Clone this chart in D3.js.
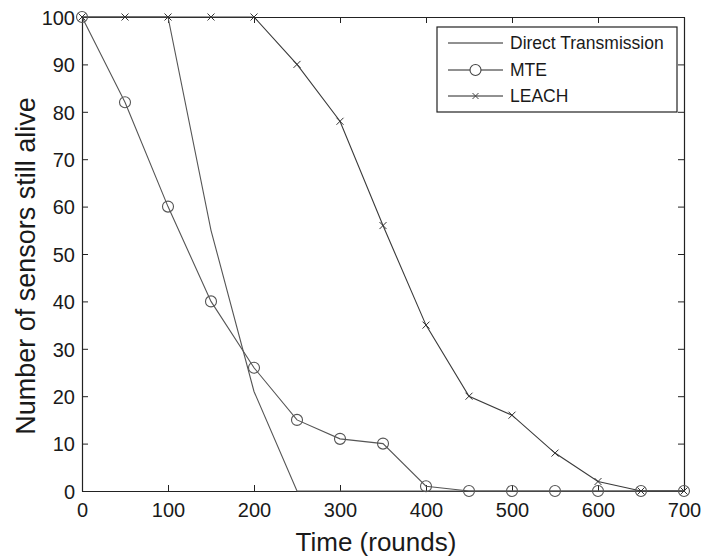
<!DOCTYPE html>
<html>
<head>
<meta charset="utf-8">
<script src="https://cdn.jsdelivr.net/npm/d3@7"></script>
<style>
  body { margin: 0; background: #fff; }
  text { font-family: "Liberation Sans", Arial, sans-serif; fill: #1a1a1a; }
</style>
</head>
<body>
<script>
// rounds (x values shared by all series)
var rounds = [0, 50, 100, 150, 200, 250, 300, 350, 400, 450, 500, 550, 600, 650, 700];

// sensors still alive per protocol
var directTx = [100, 100, 100, 55, 21, 0, 0, 0, 0, 0, 0, 0, 0, 0, 0];
var mte      = [100, 82, 60, 40, 26, 15, 11, 10, 1, 0, 0, 0, 0, 0, 0];
var leach    = [100, 100, 100, 100, 100, 90, 78, 56, 35, 20, 16, 8, 2, 0, 0];

var xTicks = [0, 100, 200, 300, 400, 500, 600, 700];
var yTicks = [0, 10, 20, 30, 40, 50, 60, 70, 80, 90, 100];

var W = 705, H = 558;
// note: "top" is a reserved window prop, so use plot* names
var plotL = 82, plotR = 684, plotT = 17, plotB = 491;

var svg = d3.select("body").append("svg").attr("width", W).attr("height", H);

var x = d3.scaleLinear().domain([0, 700]).range([plotL, plotR]);
var y = d3.scaleLinear().domain([0, 100]).range([plotB, plotT]);

// frame with inward ticks on all sides (matlab style)
var tl = 6;
svg.append("g").attr("transform", "translate(0," + plotB + ")")
  .call(d3.axisBottom(x).tickValues(xTicks).tickSizeInner(-tl).tickSizeOuter(0).tickPadding(9))
  .call(function (g) { g.selectAll("text").attr("font-size", 20).attr("dy", "0.85em"); });
svg.append("g").attr("transform", "translate(0," + plotT + ")")
  .call(d3.axisTop(x).tickValues(xTicks).tickSizeInner(-tl).tickSizeOuter(0).tickFormat(""));
svg.append("g").attr("transform", "translate(" + plotL + ",0)")
  .call(d3.axisLeft(y).tickValues(yTicks).tickSizeInner(-tl).tickSizeOuter(0).tickPadding(7))
  .call(function (g) { g.selectAll("text").attr("font-size", 20).attr("dy", "0.36em"); });
svg.append("g").attr("transform", "translate(" + plotR + ",0)")
  .call(d3.axisRight(y).tickValues(yTicks).tickSizeInner(-tl).tickSizeOuter(0).tickFormat(""));

svg.selectAll(".domain").attr("stroke", "#222").attr("stroke-width", 1.2);
svg.selectAll(".tick line").attr("stroke", "#222");
svg.selectAll(".tick text").attr("fill", "#1a1a1a").attr("font-family", "Liberation Sans, Arial, sans-serif");

// axis labels
svg.append("text")
  .attr("x", 376).attr("y", 551)
  .attr("text-anchor", "middle")
  .attr("font-size", 26)
  .text("Time (rounds)");
svg.append("text")
  .attr("transform", "translate(35,266) rotate(-90)")
  .attr("text-anchor", "middle")
  .attr("font-size", 27)
  .text("Number of sensors still alive");

var line = d3.line()
  .x(function (d) { return x(d[0]); })
  .y(function (d) { return y(d[1]); });

function pairs(vals) {
  return rounds.map(function (r, i) { return [r, vals[i]]; });
}

var lineColor = "#555";

svg.append("path").datum(pairs(directTx))
  .attr("d", line).attr("fill", "none").attr("stroke", lineColor).attr("stroke-width", 1.1);
svg.append("path").datum(pairs(mte))
  .attr("d", line).attr("fill", "none").attr("stroke", lineColor).attr("stroke-width", 1.1);
svg.append("path").datum(pairs(leach))
  .attr("d", line).attr("fill", "none").attr("stroke", "#3a3a3a").attr("stroke-width", 1.1);

// MTE circles
svg.selectAll("circle.mte").data(pairs(mte)).enter().append("circle")
  .attr("class", "mte")
  .attr("cx", function (d) { return x(d[0]); })
  .attr("cy", function (d) { return y(d[1]); })
  .attr("r", 5.5)
  .attr("fill", "none")
  .attr("stroke", lineColor)
  .attr("stroke-width", 1.1);

// LEACH x markers
var cs = 3.5;
svg.selectAll("path.leach").data(pairs(leach)).enter().append("path")
  .attr("class", "leach")
  .attr("d", function (d) {
    var cx = x(d[0]), cy = y(d[1]);
    return "M" + (cx - cs) + "," + (cy - cs) + "L" + (cx + cs) + "," + (cy + cs) +
           "M" + (cx - cs) + "," + (cy + cs) + "L" + (cx + cs) + "," + (cy - cs);
  })
  .attr("stroke", "#333")
  .attr("stroke-width", 1);

// legend
var legend = svg.append("g");
legend.append("rect")
  .attr("x", 437).attr("y", 27).attr("width", 240).attr("height", 85)
  .attr("fill", "#fff").attr("stroke", "#222").attr("stroke-width", 1.2);

var legendItems = ["Direct Transmission", "MTE", "LEACH"];
var rowY = [43, 70, 96];
legendItems.forEach(function (name, i) {
  var ly = rowY[i];
  legend.append("line")
    .attr("x1", 448).attr("x2", 503).attr("y1", ly).attr("y2", ly)
    .attr("stroke", "#222").attr("stroke-width", 1);
  if (i === 1) {
    legend.append("circle").attr("cx", 475.5).attr("cy", ly).attr("r", 5.5)
      .attr("fill", "#fff").attr("stroke", "#444").attr("stroke-width", 1.1);
  }
  if (i === 2) {
    legend.append("path")
      .attr("d", "M" + (475.5 - 3) + "," + (ly - 3) + "L" + (475.5 + 3) + "," + (ly + 3) +
                 "M" + (475.5 - 3) + "," + (ly + 3) + "L" + (475.5 + 3) + "," + (ly - 3))
      .attr("stroke", "#444").attr("stroke-width", 1);
  }
  legend.append("text")
    .attr("x", 510).attr("y", ly).attr("dy", "0.36em")
    .attr("font-size", 17.5)
    .text(name);
});
</script>
</body>
</html>
